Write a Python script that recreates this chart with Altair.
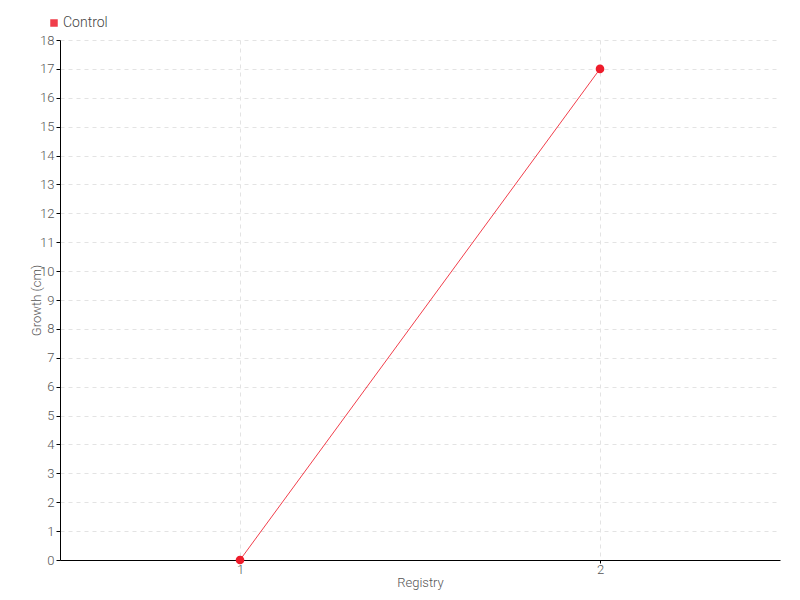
import altair as alt
import pandas as pd

registry = ["1", "2"]
growth = [0, 17]
series = ["Control", "Control"]

df = pd.DataFrame({"Registry": registry, "Growth": growth, "Series": series})

FONT = "Roboto"
W = 300
RED = "#ee1c2b"

color = alt.Color("Series:N", scale=alt.Scale(domain=["Control"], range=[RED]),
                  legend=alt.Legend(title=None, orient="none", legendX=-13, legendY=-24,
                                    symbolType="square", symbolSize=36, labelFont=FONT,
                                    labelFontWeight=W,
                                    labelFontSize=14, labelColor="#444", labelOffset=2))

x = alt.X("Registry:N", scale=alt.Scale(type="point", padding=0.5),
          axis=alt.Axis(title="Registry", labelAngle=0, grid=True, gridDash=[4, 4],
                        gridColor="#e3e3e3", domainColor="#000", tickColor="#000",
                        tickSize=3, labelFont=FONT, labelFontSize=13, labelFontWeight=W,
                        labelColor="#555", titleFont=FONT, titleFontSize=13,
                        titleFontWeight=W, titleColor="#555", titlePadding=0,
                        labelPadding=0))
y = alt.Y("Growth:Q", scale=alt.Scale(domain=[0, 18], nice=False),
          axis=alt.Axis(title="Growth (cm)", values=list(range(0, 19)), grid=True,
                        gridDash=[4, 4], gridColor="#e3e3e3", domainColor="#000",
                        tickColor="#000", tickSize=4, labelFont=FONT, labelFontSize=13,
                        labelFontWeight=W,
                        labelColor="#555", titleFont=FONT, titleFontSize=13,
                        titleFontWeight=W, titleColor="#555", titleX=-17))

line = alt.Chart(df).mark_line(strokeWidth=1, opacity=0.85).encode(x=x, y=y, color=color)
pts = alt.Chart(df).mark_circle(size=75, opacity=1).encode(x=x, y=y, color=color)

chart = (line + pts).properties(
    width=720, height=520,
    autosize=alt.AutoSizeParams(type="none"),
    padding={"left": 52, "top": 32, "right": 12, "bottom": 32},
).configure_view(stroke=None)

chart.save("out.html", embed_options={"renderer": "svg", "actions": False})
